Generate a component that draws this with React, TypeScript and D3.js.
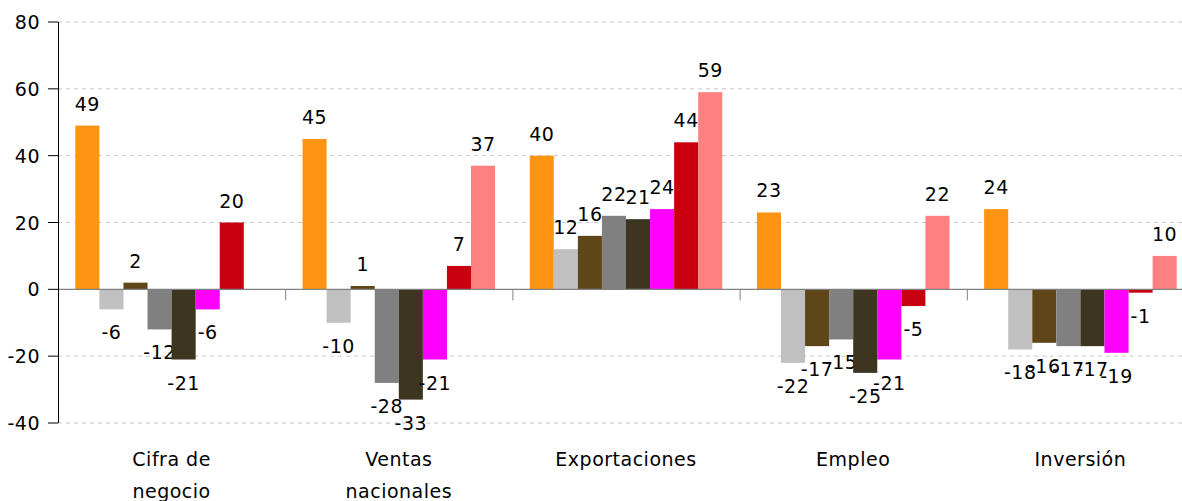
import { scaleBand, scaleLinear } from 'd3';

const categories = [['Cifra de', 'negocio'], ['Ventas', 'nacionales'], ['Exportaciones'], ['Empleo'], ['Inversión']];
const seriesColors = ['#FF9412', '#C0C0C0', '#5E4618', '#808080', '#3D3520', '#FF00FF', '#C8000F', '#FF8080'];
// one array per category, one value per series (null = no bar)
const cifra = [49, -6, 2, -12, -21, -6, 20, null];
const ventas = [45, -10, 1, -28, -33, -21, 7, 37];
const exportaciones = [40, 12, 16, 22, 21, 24, 44, 59];
const empleo = [23, -22, -17, -15, -25, -21, -5, 22];
const inversion = [24, -18, -16, -17, -17, -19, -1, 10];
const values = [cifra, ventas, exportaciones, empleo, inversion];
const yTicks = [-40, -20, 0, 20, 40, 60, 80];

const W = 1182;
const H = 501;
const left = 58;
const right = 1194;
const font = '"DejaVu Sans", Tahoma, sans-serif';

export default function App() {
  const y = scaleLinear().domain([-40, 80]).range([423, 22]);
  const x = scaleBand<number>().domain(categories.map((_, i) => i)).range([left, right]);
  const inner = scaleBand<number>().domain(seriesColors.map((_, i) => i)).range([0, x.bandwidth()]).paddingOuter(0.72);
  const y0 = y(0);

  return (
    <svg width={W} height={H} style={{ position: 'absolute', left: 0, top: 0 }} fontFamily={font}>
      {yTicks.filter((t) => t !== 0).map((t) => (
        <line key={t} x1={left} x2={W} y1={y(t)} y2={y(t)} stroke="#C8C8C8" strokeDasharray="4,4" />
      ))}
      {values.map((vals, ci) => (
        <g key={ci} transform={`translate(${x(ci)},0)`}>
          {vals.map((v, si) => {
            if (v === null) return null;
            const bx = inner(si)!;
            const bw = inner.bandwidth();
            const top = Math.min(y(v), y0);
            const h = Math.abs(y(v) - y0);
            return (
              <g key={si}>
                <rect x={bx} y={top} width={bw} height={Math.max(h, 1)} fill={seriesColors[si]} />
                <text
                  x={bx + bw / 2}
                  y={v >= 0 ? y(v) - 15 : y(v) + 30}
                  textAnchor="middle"
                  fontSize={19}
                  letterSpacing={0.5}
                  fill="#000"
                >
                  {v}
                </text>
              </g>
            );
          })}
        </g>
      ))}
      <line x1={left} x2={W} y1={y0} y2={y0} stroke="#808080" strokeWidth={1.2} />
      {categories.map((_, i) => (
        <line key={i} x1={x(i)! + 0.5} x2={x(i)! + 0.5} y1={y0} y2={y0 + 11} stroke="#808080" />
      ))}
      <line x1={left + 0.5} x2={left + 0.5} y1={y(80)} y2={y(-40)} stroke="#000" />
      {yTicks.map((t) => (
        <g key={t}>
          <line x1={left - 10} x2={left} y1={y(t)} y2={y(t)} stroke="#000" />
          <text x={40} y={y(t) + 7} textAnchor="end" fontSize={19} letterSpacing={0.5} fill="#000">
            {t}
          </text>
        </g>
      ))}
      {categories.map((lines, i) => (
        <text key={i} textAnchor="middle" fontSize={19} letterSpacing={0.5} fill="#000">
          {lines.map((ln, li) => (
            <tspan key={li} x={x(i)! + x.bandwidth() / 2} y={466 + li * 32}>
              {ln}
            </tspan>
          ))}
        </text>
      ))}
    </svg>
  );
}
